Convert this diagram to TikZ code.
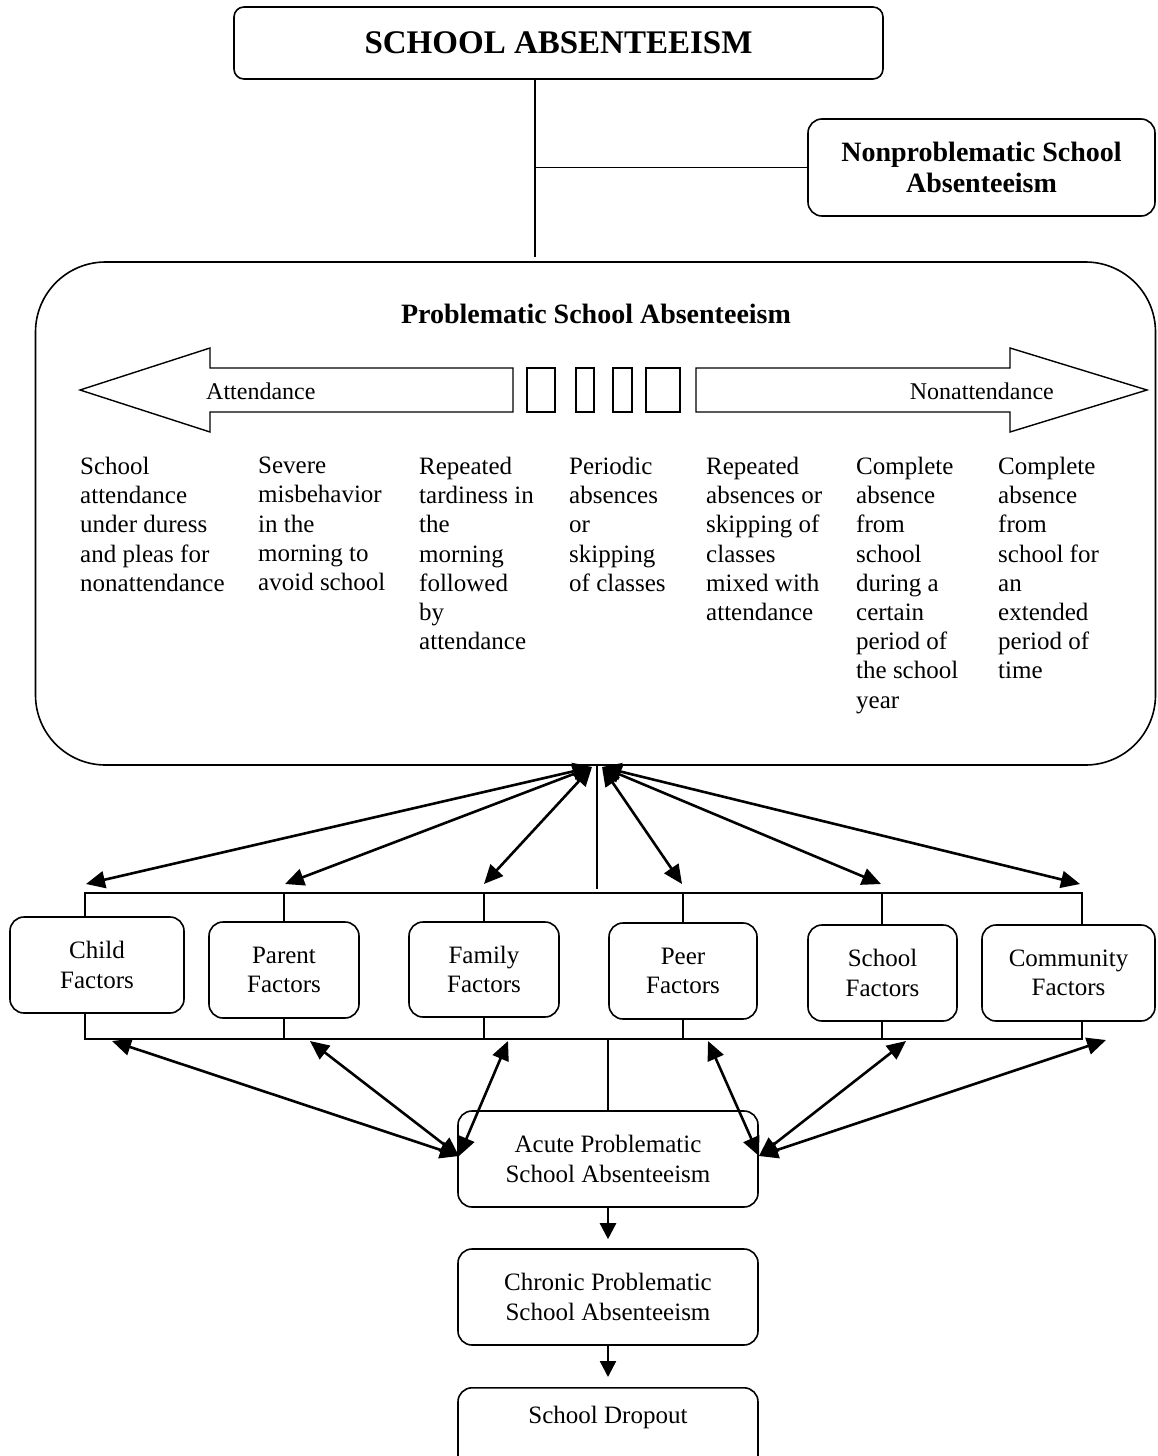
\documentclass[tikz,border=0pt]{standalone}
\usepackage{fontspec}
\setmainfont{Liberation Serif}
\usetikzlibrary{arrows.meta}
\newcommand\fsbox{\fontsize{25}{29.5}\selectfont}
\newcommand\fsbody{\fontsize{25}{29.2}\selectfont}
\newcommand\fsnp{\bfseries\fontsize{28}{30.5}\selectfont}
\newcommand\fstitle{\bfseries\fontsize{33}{40}\selectfont}
\newcommand\fsarr{\fontsize{24}{26}\selectfont}
\tikzset{
  tree/.style={line width=1.3pt},
  sbox/.style={draw, line width=1.6pt, rounded corners=14pt, align=center, inner sep=0pt, font=\fsbox},
  titlebox/.style={draw, line width=1.6pt, rounded corners=10pt, inner sep=0pt, font=\fstitle},
  npbox/.style={draw, line width=1.6pt, rounded corners=14pt, align=center, inner sep=0pt, font=\fsnp},
  bigbox/.style={draw, line width=1.6pt, rounded corners=70pt, inner sep=0pt},
  bigarrow/.style={draw, line width=1.4pt},
  coltext/.style={anchor=north west, align=left, inner sep=0pt, font=\fsbody},
  arrtext/.style={inner sep=0pt, font=\fsarr},
  dbl/.style={line width=2.6pt, {Triangle[length=19pt,width=17pt]}-{Triangle[length=19pt,width=17pt]}},
  one/.style={line width=2.4pt, -{Triangle[length=16pt,width=16pt]}}
}
\begin{document}
\begin{tikzpicture}[x=1pt,y=-1pt]
\useasboundingbox (0,0) rectangle (1157,1456);
\clip (0,0) rectangle (1157,1456);

% top part
\node[titlebox, minimum width=649pt, minimum height=72pt] (title) at (558.5,43) {SCHOOL ABSENTEEISM};
\node[npbox, minimum width=347pt, minimum height=97pt] (nonp) at (981.5,167.5) {Nonproblematic School\\Absenteeism};
\node[bigbox, minimum width=1120pt, minimum height=503pt] (big) at (595.5,513.5) {};
\node[inner sep=0pt, font=\fsnp] (ptitle) at (596,314) {Problematic School Absenteeism};

\coordinate (stem) at (535,79);
\coordinate (stemfoot) at (535,257);
\draw[tree] (stem) -- (stemfoot);
\draw[tree] (stem |- nonp.west) -- (nonp.west);

% continuum arrows
\draw[bigarrow] (80,390) -- (210,348) -- (210,368) -- (513,368) -- (513,412) -- (210,412) -- (210,432) -- cycle;
\draw[bigarrow] (1147,390) -- (1010,348) -- (1010,368) -- (696,368) -- (696,412) -- (1010,412) -- (1010,432) -- cycle;
\draw[bigarrow] (527,368) rectangle (555,412);
\draw[bigarrow] (576,368) rectangle (594,412);
\draw[bigarrow] (613,368) rectangle (632,412);
\draw[bigarrow] (646,368) rectangle (680,412);
\node[arrtext, anchor=west] (att) at (206,391) {Attendance};
\node[arrtext, anchor=east] (nonatt) at (1054,391) {Nonattendance};

% columns
\node[coltext] (c1) at (80,457) {School\\attendance\\under duress\\and pleas for\\nonattendance};
\node[coltext] (c2) at (258,457) {Severe\\misbehavior\\in the\\morning to\\avoid school};
\node[coltext] (c3) at (419,457) {Repeated\\tardiness in\\the\\morning\\followed\\by\\attendance};
\node[coltext] (c4) at (569,457) {Periodic\\absences\\or\\skipping\\of classes};
\node[coltext] (c5) at (706,457) {Repeated\\absences or\\skipping of\\classes\\mixed with\\attendance};
\node[coltext] (c6) at (856,457) {Complete\\absence\\from\\school\\during a\\certain\\period of\\the school\\year};
\node[coltext] (c7) at (998,457) {Complete\\absence\\from\\school for\\an\\extended\\period of\\time};

% factors
\node[sbox, minimum width=174pt, minimum height=96pt] (child) at (97,965) {Child\\Factors};
\node[sbox, minimum width=150pt, minimum height=96pt] (parent) at (284,970) {Parent\\Factors};
\node[sbox, minimum width=150pt, minimum height=95pt] (family) at (484,969.5) {Family\\Factors};
\node[sbox, minimum width=148pt, minimum height=96pt] (peer) at (683,971) {Peer\\Factors};
\node[sbox, minimum width=149pt, minimum height=96pt] (school) at (882.5,973) {School\\Factors};
\node[sbox, minimum width=173pt, minimum height=96pt] (community) at (1068.5,973) {Community\\Factors};

\coordinate (d1) at (85,893); \coordinate (d2) at (284,893); \coordinate (d3) at (484,893);
\coordinate (d4) at (683,893); \coordinate (d5) at (882,893); \coordinate (d6) at (1082,893);
\coordinate (e1) at (85,1039); \coordinate (e2) at (284,1039); \coordinate (e3) at (484,1039);
\coordinate (e4) at (683,1039); \coordinate (e5) at (882,1039); \coordinate (e6) at (1082,1039);

\draw[tree] (child.north -| d1) -- (d1) -- (d6) -- (community.north -| d6);
\draw[tree] (d2) -- (parent.north -| d2);
\draw[tree] (d3) -- (family.north -| d3);
\draw[tree] (d4) -- (peer.north -| d4);
\draw[tree] (d5) -- (school.north -| d5);
\draw[tree] (child.south -| e1) -- (e1) -- (e6) -- (community.south -| e6);
\draw[tree] (e2) -- (parent.south -| e2);
\draw[tree] (e3) -- (family.south -| e3);
\draw[tree] (e4) -- (peer.south -| e4);
\draw[tree] (e5) -- (school.south -| e5);

% hub
\coordinate (hub) at (597,765);
\coordinate (hubL) at (592,767);
\coordinate (hubR) at (602,767);
\coordinate (hubfoot) at (597,889);
\draw[tree] (hub) -- (hubfoot);

\coordinate (t1) at (86,884); \coordinate (t2) at (285,884); \coordinate (t3) at (484,884);
\coordinate (t4) at (682,884); \coordinate (t5) at (881,884); \coordinate (t6) at (1080,884);
\draw[dbl] (hubL) -- (t1);
\draw[dbl] (hubL) -- (t2);
\draw[dbl] (hubL) -- (t3);
\draw[dbl] (hubR) -- (t4);
\draw[dbl] (hubR) -- (t5);
\draw[dbl] (hubR) -- (t6);

% lower chain
\node[sbox, minimum width=300pt, minimum height=96pt] (acute) at (608,1159) {Acute Problematic\\School Absenteeism};
\node[sbox, minimum width=300pt, minimum height=96pt] (chronic) at (608,1297) {Chronic Problematic\\School Absenteeism};
\node[sbox, minimum width=300pt, minimum height=96pt, anchor=north] (drop) at (608,1387) {};
\node[inner sep=0pt, font=\fsbox] (droptext) at (608,1417) {School Dropout};

\draw[tree] (acute.north) -- (acute.north |- e1);

\coordinate (aL) at (459,1156);
\coordinate (aR) at (759,1156);
\coordinate (b1) at (112,1041); \coordinate (b2) at (310,1041); \coordinate (b3) at (508,1041);
\coordinate (b4) at (708,1041); \coordinate (b5) at (906,1041); \coordinate (b6) at (1106,1040);
\draw[dbl] (aL) -- (b1);
\draw[dbl] (aL) -- (b2);
\draw[dbl] (aL) -- (b3);
\draw[dbl] (aR) -- (b4);
\draw[dbl] (aR) -- (b5);
\draw[dbl] (aR) -- (b6);

\draw[one] (acute.south) -- ([yshift=9pt]chronic.north);
\draw[one] (chronic.south) -- ([yshift=10pt]drop.north);
\end{tikzpicture}
\end{document}
